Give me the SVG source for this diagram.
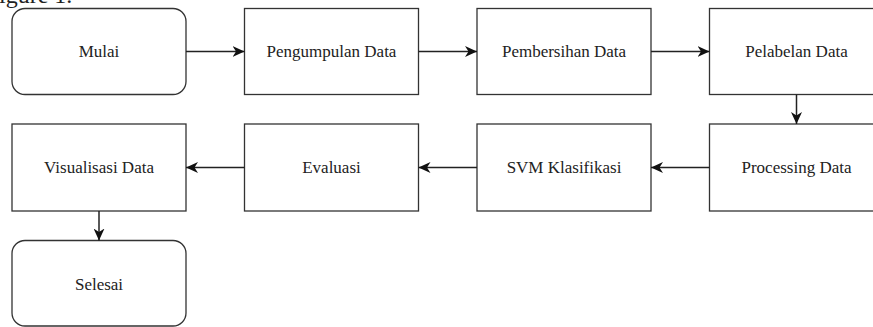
<svg xmlns="http://www.w3.org/2000/svg" width="873" height="327" viewBox="0 0 873 327">
<style>
.box{fill:#fff;stroke:#333;stroke-width:1.3}
.lbl{font-family:"Liberation Serif","Times New Roman",serif;font-size:17px;fill:#222;text-anchor:middle}
.edge{fill:none;stroke:#222;stroke-width:1.5}
</style>
<defs>
<marker id="arr" markerUnits="userSpaceOnUse" markerWidth="13" markerHeight="11" refX="12" refY="5.5" orient="auto">
<path d="M0,0 L12,5.5 L0,11 L3.5,5.5 z" fill="#111"/>
</marker>
</defs>
<rect width="873" height="327" fill="#fff"/>
<text x="-1" y="3" font-family="Liberation Serif,serif" font-size="24" fill="#222">igure 1.</text>
<g id="mulai"><rect class="box" x="12" y="8.5" width="174" height="86" rx="13"/><text class="lbl" x="99" y="57">Mulai</text></g>
<g id="pengumpulan"><rect class="box" x="244.5" y="8.5" width="174" height="86"/><text class="lbl" x="331.5" y="57">Pengumpulan Data</text></g>
<g id="pembersihan"><rect class="box" x="477" y="8.5" width="174" height="86"/><text class="lbl" x="564" y="57">Pembersihan Data</text></g>
<g id="pelabelan"><rect class="box" x="709.5" y="8.5" width="174" height="86"/><text class="lbl" x="796.5" y="57">Pelabelan Data</text></g>
<g id="processing"><rect class="box" x="709.5" y="124" width="174" height="87"/><text class="lbl" x="796.5" y="173">Processing Data</text></g>
<g id="svm"><rect class="box" x="477" y="124" width="174" height="87"/><text class="lbl" x="564" y="173">SVM Klasifikasi</text></g>
<g id="evaluasi"><rect class="box" x="244.5" y="124" width="174" height="87"/><text class="lbl" x="331.5" y="173">Evaluasi</text></g>
<g id="visualisasi"><rect class="box" x="12" y="124" width="174" height="87"/><text class="lbl" x="99" y="173">Visualisasi Data</text></g>
<g id="selesai"><rect class="box" x="12" y="240.5" width="174" height="85.5" rx="13"/><text class="lbl" x="99" y="290">Selesai</text></g>
<g id="connectors">
<line class="edge" x1="186" y1="51.5" x2="244.5" y2="51.5" marker-end="url(#arr)"/>
<line class="edge" x1="418.5" y1="51.5" x2="477" y2="51.5" marker-end="url(#arr)"/>
<line class="edge" x1="651" y1="51.5" x2="709.5" y2="51.5" marker-end="url(#arr)"/>
<line class="edge" x1="796.5" y1="94.5" x2="796.5" y2="124" marker-end="url(#arr)"/>
<line class="edge" x1="709.5" y1="167.5" x2="651" y2="167.5" marker-end="url(#arr)"/>
<line class="edge" x1="477" y1="167.5" x2="418.5" y2="167.5" marker-end="url(#arr)"/>
<line class="edge" x1="244.5" y1="167.5" x2="186" y2="167.5" marker-end="url(#arr)"/>
<line class="edge" x1="99" y1="211" x2="99" y2="240.5" marker-end="url(#arr)"/>
</g>
</svg>
